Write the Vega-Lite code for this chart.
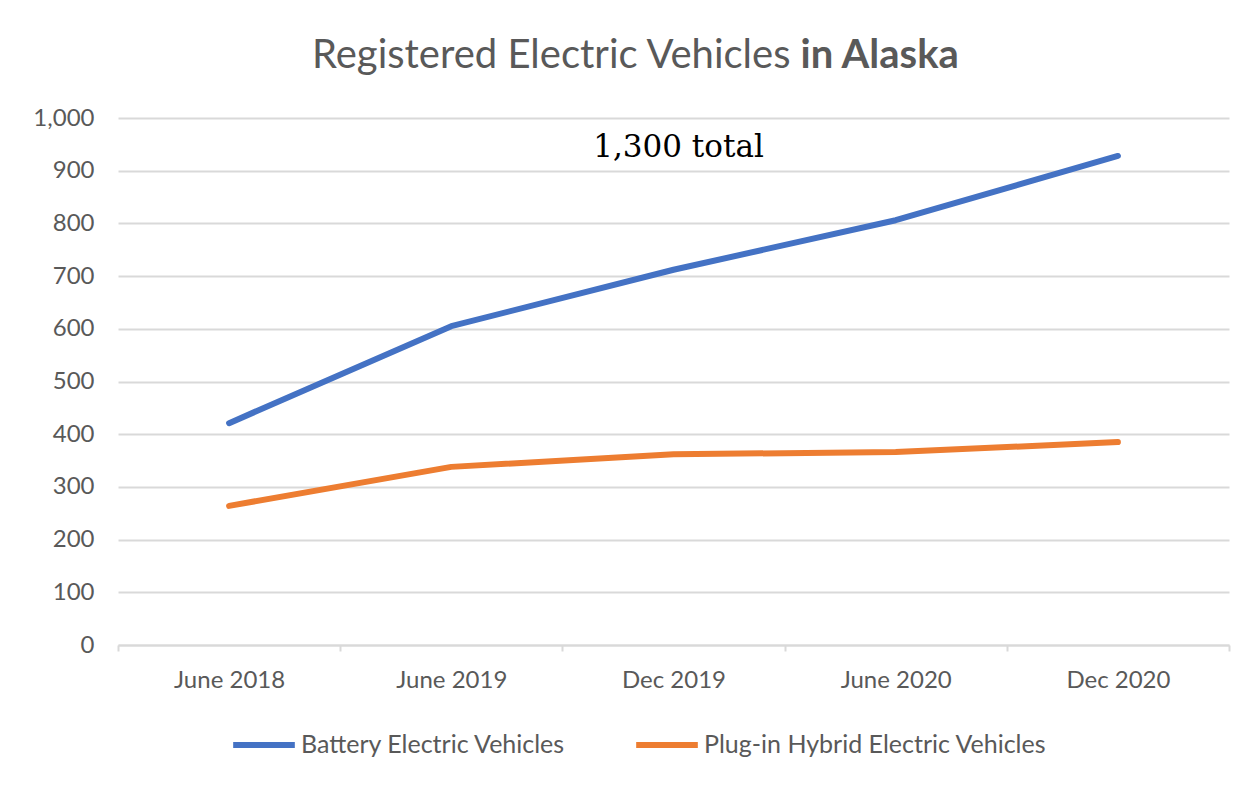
{
  "$schema": "https://vega.github.io/schema/vega-lite/v6.json",
  "autosize": {"type": "none"},
  "width": 1111,
  "height": 527,
  "padding": {"left": 118, "top": 118, "right": 23, "bottom": 140},
  "background": "white",
  "config": {
    "font": "Lato",
    "view": {"stroke": null}
  },
  "datasets": {
    "ev": [
      {"period": "June 2018", "series": "Battery Electric Vehicles", "count": 421},
      {"period": "June 2019", "series": "Battery Electric Vehicles", "count": 605},
      {"period": "Dec 2019", "series": "Battery Electric Vehicles", "count": 712},
      {"period": "June 2020", "series": "Battery Electric Vehicles", "count": 806},
      {"period": "Dec 2020", "series": "Battery Electric Vehicles", "count": 928},
      {"period": "June 2018", "series": "Plug-in Hybrid Electric Vehicles", "count": 264},
      {"period": "June 2019", "series": "Plug-in Hybrid Electric Vehicles", "count": 338},
      {"period": "Dec 2019", "series": "Plug-in Hybrid Electric Vehicles", "count": 362},
      {"period": "June 2020", "series": "Plug-in Hybrid Electric Vehicles", "count": 366},
      {"period": "Dec 2020", "series": "Plug-in Hybrid Electric Vehicles", "count": 385}
    ],
    "labels": [
      {"period": "Dec 2019", "count": 1095, "part": "a", "text": "Registered Electric Vehicles"},
      {"period": "Dec 2019", "count": 1095, "part": "b", "text": "in Alaska"},
      {"period": "Dec 2019", "count": 943, "part": "c", "text": "1,300 total"}
    ]
  },
  "layer": [
    {
      "data": {"name": "ev"},
      "mark": {"type": "line", "strokeWidth": 6, "strokeCap": "round", "strokeJoin": "round", "clip": false},
      "encoding": {
        "x": {
          "field": "period", "type": "ordinal", "bandPosition": 0.5,
          "sort": null,
          "scale": {"type": "band", "paddingInner": 0, "paddingOuter": 0,
                    "domain": ["June 2018", "June 2019", "Dec 2019", "June 2020", "Dec 2020"]},
          "axis": {
            "title": null, "labelAngle": 0, "labelFontSize": 24, "labelColor": "#595959",
            "labelPadding": 17, "domainColor": "#d9d9d9", "domainWidth": 2,
            "tickColor": "#d9d9d9", "tickWidth": 2, "tickSize": 6, "tickBand": "extent",
            "grid": false
          }
        },
        "y": {
          "field": "count", "type": "quantitative",
          "scale": {"domain": [0, 1000], "nice": false},
          "axis": {
            "title": null, "values": [0,100,200,300,400,500,600,700,800,900,1000],
            "labelOverlap": false,
            "format": ",d", "labelFontSize": 24, "labelColor": "#595959", "labelPadding": 24,
            "domain": false, "ticks": false, "gridColor": "#d9d9d9", "gridWidth": 2
          }
        },
        "color": {
          "field": "series", "type": "nominal",
          "scale": {"domain": ["Battery Electric Vehicles", "Plug-in Hybrid Electric Vehicles"], "range": ["#4472C4", "#ED7D31"]},
          "legend": {
            "title": null, "orient": "none", "direction": "horizontal",
            "legendX": 112, "legendY": 593,
            "symbolType": "stroke", "symbolSize": 3800, "symbolStrokeWidth": 6,
            "labelFontSize": 25, "labelColor": "#595959", "labelOffset": 3, "labelLimit": 600,
            "columnPadding": 58
          }
        }
      }
    },
    {
      "data": {"name": "labels"},
      "transform": [{"filter": "datum.part == 'a'"}],
      "mark": {"type": "text", "align": "right", "baseline": "alphabetic", "dx": 117, "fontSize": 40, "color": "#595959", "clip": false},
      "encoding": {
        "x": {"field": "period", "type": "ordinal", "bandPosition": 0.5, "sort": null},
        "y": {"field": "count", "type": "quantitative"},
        "text": {"field": "text"}
      }
    },
    {
      "data": {"name": "labels"},
      "transform": [{"filter": "datum.part == 'b'"}],
      "mark": {"type": "text", "align": "left", "baseline": "alphabetic", "dx": 127, "fontSize": 40, "fontWeight": "bold", "color": "#595959", "clip": false},
      "encoding": {
        "x": {"field": "period", "type": "ordinal", "bandPosition": 0.5, "sort": null},
        "y": {"field": "count", "type": "quantitative"},
        "text": {"field": "text"}
      }
    },
    {
      "data": {"name": "labels"},
      "transform": [{"filter": "datum.part == 'c'"}],
      "mark": {"type": "text", "align": "center", "baseline": "middle", "dx": 5, "font": "DejaVu Serif", "fontSize": 31, "color": "black", "clip": false},
      "encoding": {
        "x": {"field": "period", "type": "ordinal", "bandPosition": 0.5, "sort": null},
        "y": {"field": "count", "type": "quantitative"},
        "text": {"field": "text"}
      }
    }
  ]
}
